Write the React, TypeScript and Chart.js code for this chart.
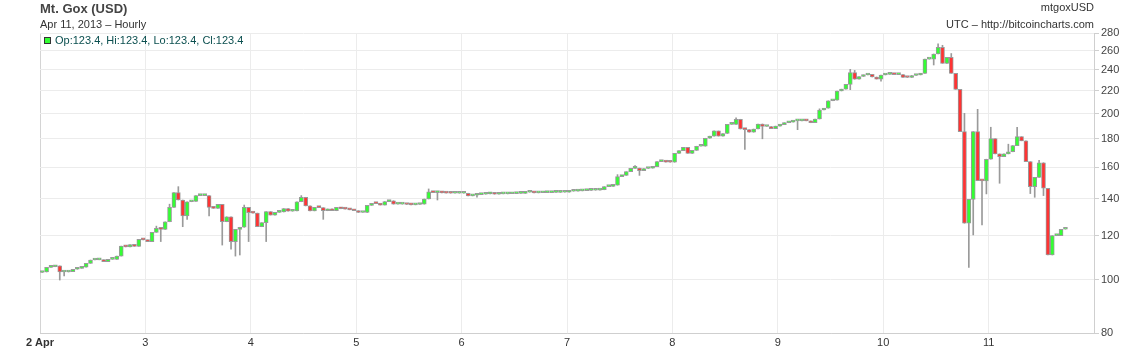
import React, { useEffect, useRef } from "react";
import { Chart, registerables } from "chart.js";

Chart.register(...registerables);

// ---- Data (hourly candles, Mt. Gox USD, 2–11 Apr 2013) ----
const dayTickLabels = ["2 Apr", "3", "4", "5", "6", "7", "8", "9", "10", "11"];
const priceTicks = [80, 100, 120, 140, 160, 180, 200, 220, 240, 260, 280];
const firstOpen = 103.0;

const closesApr02 = [103.2, 105.2, 105.5, 105.9, 103.2, 103.2, 103.3, 104.4, 104.8, 105.3, 107.0, 108.5, 108.6, 108.6, 107.8, 108.8, 108.8, 110.3, 115.0, 114.6, 115.7, 114.9, 118.3, 118.0];
const closesApr03 = [117.2, 121.8, 123.9, 123.3, 127.3, 135.2, 143.8, 139.4, 130.4, 138.4, 138.6, 142.0, 142.0, 142.0, 135.2, 134.6, 136.9, 127.3, 130.0, 117.2, 123.3, 124.4, 135.2, 132.2];
const closesApr04 = [132.0, 124.7, 126.8, 132.8, 130.9, 132.4, 132.6, 134.5, 133.0, 133.2, 138.4, 141.0, 136.0, 133.2, 135.2, 135.0, 133.3, 134.3, 133.3, 135.2, 134.4, 134.2, 133.8, 133.3];
const closesApr05 = [132.3, 132.3, 136.3, 137.5, 137.3, 136.5, 138.5, 139.0, 137.0, 137.0, 137.0, 136.8, 136.6, 136.8, 137.0, 140.0, 144.3, 143.8, 144.2, 143.6, 143.5, 143.4, 143.4, 143.4];
const closesApr06 = [143.4, 141.8, 142.2, 142.6, 142.8, 143.0, 143.9, 142.8, 143.0, 143.0, 143.1, 143.2, 143.3, 143.3, 144.0, 144.0, 143.6, 143.7, 143.8, 143.8, 143.9, 143.9, 144.0, 144.0];
const closesApr07 = [144.6, 144.7, 144.8, 145.0, 145.1, 145.2, 145.3, 145.5, 147.4, 147.6, 148.3, 153.7, 154.5, 156.9, 159.1, 159.3, 157.5, 159.0, 159.2, 160.3, 163.6, 164.0, 163.3, 163.2];
const closesApr08 = [169.4, 171.3, 173.7, 169.4, 171.5, 174.5, 174.5, 180.4, 182.0, 186.0, 182.0, 184.0, 191.2, 191.2, 195.3, 187.5, 187.0, 185.0, 187.5, 191.5, 189.5, 189.5, 187.8, 189.8];
const closesApr09 = [191.0, 192.5, 193.0, 194.0, 194.0, 194.2, 194.0, 192.5, 195.5, 203.0, 204.5, 211.0, 211.5, 219.8, 221.5, 226.0, 237.3, 230.8, 233.5, 235.0, 235.5, 233.0, 231.0, 235.0];
const closesApr10 = [235.5, 235.5, 235.3, 235.3, 232.7, 232.5, 234.5, 235.0, 236.5, 251.0, 251.0, 256.5, 263.8, 246.7, 253.0, 236.6, 221.3, 185.5, 126.5, 139.8, 185.5, 151.1, 151.0, 165.3];
const closesApr11 = [180.1, 169.0, 167.0, 169.0, 170.5, 175.0, 181.6, 178.5, 163.6, 147.4, 153.2, 162.9, 146.4, 110.8, 120.1, 120.1, 123.4, 123.4];

// [hour index, value] for visible wick extremes
const wickHighs: [number, number][] = [
  [26, 125.0], [29, 137.0], [31, 147.4], [46, 136.5], [59, 142.0], [88, 146.0], [131, 155.0],
  [135, 161.0], [158, 196.5], [177, 204.0], [184, 240.6], [185, 239.5], [204, 267.5], [205, 266.0],
  [207, 257.0], [210, 200.2], [213, 203.6], [216, 188.9], [220, 176.0], [222, 188.9], [227, 164.5],
];
const wickLows: [number, number][] = [
  [4, 99.8], [5, 101.5], [27, 117.2], [30, 135.2], [32, 124.7], [33, 128.5], [38, 130.4], [41, 115.5],
  [43, 113.5], [44, 110.3], [45, 110.8], [47, 117.2], [51, 117.2], [64, 128.6], [90, 139.4], [99, 141.0],
  [136, 154.5], [160, 172.2], [164, 180.0], [172, 187.0], [184, 221.0], [191, 229.0], [203, 245.0],
  [211, 105.2], [212, 120.5], [214, 125.6], [215, 143.0], [218, 149.5], [225, 143.2],
  [226, 141.0], [228, 142.0],
];

const UP = "#33ff33";
const DOWN = "#ff3333";
const EDGE = "#9a9a9a";
const FONT = '"Liberation Sans", Arial, Helvetica, sans-serif';

export default function App() {
  const canvasRef = useRef<HTMLCanvasElement | null>(null);

  useEffect(() => {
    const closes = [
      ...closesApr02, ...closesApr03, ...closesApr04, ...closesApr05, ...closesApr06,
      ...closesApr07, ...closesApr08, ...closesApr09, ...closesApr10, ...closesApr11,
    ];
    const opens = closes.map((c, i) => (i === 0 ? firstOpen : closes[i - 1]));
    const hi = new Map(wickHighs);
    const lo = new Map(wickLows);
    const bodies = closes.map((c, i) => ({ x: i + 0.5, y: [opens[i], c] }));
    const wicks = closes.map((c, i) => ({
      x: i + 0.5,
      y: [lo.get(i) ?? Math.min(opens[i], c), hi.get(i) ?? Math.max(opens[i], c)],
    }));
    const fills = closes.map((c, i) => (c >= opens[i] ? UP : DOWN));

    const chart = new Chart(canvasRef.current as HTMLCanvasElement, {
      type: "bar",
      data: {
        datasets: [
          {
            data: wicks as any,
            backgroundColor: EDGE,
            borderWidth: 0,
            barThickness: 1,
            grouped: false,
            order: 2,
          } as any,
          {
            data: bodies as any,
            backgroundColor: fills,
            borderColor: EDGE,
            borderWidth: 1,
            borderSkipped: false,
            barThickness: 4,
            minBarLength: 2,
            grouped: false,
            order: 1,
          } as any,
        ],
      },
      options: {
        animation: false,
        responsive: false,
        layout: { padding: { left: 40, top: 33, right: 0, bottom: 0 } },
        plugins: { legend: { display: false }, tooltip: { enabled: false }, title: { display: false } },
        scales: {
          x: {
            type: "linear",
            min: 0,
            max: 240,
            offset: false,
            grid: {
              offset: false,
              drawTicks: false,
              color: (ctx: any) => (ctx.index === 0 ? "#d4d4d4" : "#ececec"),
            },
            border: { color: "#cfcfcf" },
            afterBuildTicks: (s: any) => {
              s.ticks = dayTickLabels.map((_, i) => ({ value: i * 24 }));
            },
            ticks: {
              autoSkip: false,
              maxRotation: 0,
              padding: 3,
              color: "#333333",
              font: (ctx: any) => ({ family: FONT, size: 11, weight: ctx.index === 0 ? "bold" : "normal" }),
              callback: (_v: any, i: number) => dayTickLabels[i] ?? "",
            },
            afterFit: (s: any) => {
              s.height = 15;
            },
          },
          y: {
            type: "logarithmic",
            position: "right",
            min: 80,
            max: 280,
            grid: { color: "#ececec", tickColor: "#cfcfcf", tickLength: 5, drawTicks: true },
            border: { color: "#cfcfcf" },
            afterBuildTicks: (s: any) => {
              s.ticks = priceTicks.map((v) => ({ value: v }));
            },
            ticks: {
              autoSkip: false,
              padding: 2,
              color: "#444444",
              font: { family: FONT, size: 11 },
              callback: (v: any) => String(v),
            },
            afterFit: (s: any) => {
              s.width = 40;
            },
          },
        },
      } as any,
    });
    return () => chart.destroy();
  }, []);

  const base: React.CSSProperties = { position: "absolute", whiteSpace: "nowrap", fontFamily: FONT };
  return (
    <div style={{ position: "fixed", left: 0, top: 0, width: 1134, height: 348, background: "#fff", overflow: "hidden" }}>
      <canvas ref={canvasRef} width={1134} height={348} style={{ position: "absolute", left: 0, top: 0 }} />
      <div style={{ ...base, left: 40, top: 2, fontSize: 13, lineHeight: "13px", fontWeight: "bold", color: "#444" }}>Mt. Gox (USD)</div>
      <div style={{ ...base, left: 40, top: 19, fontSize: 11, lineHeight: "11px", color: "#333" }}>Apr 11, 2013 – Hourly</div>
      <div style={{ ...base, right: 40, top: 2, fontSize: 11, lineHeight: "11px", color: "#333", textAlign: "right" }}>mtgoxUSD</div>
      <div style={{ ...base, right: 40, top: 19, fontSize: 11, lineHeight: "11px", color: "#333", textAlign: "right" }}>UTC – http://bitcoincharts.com</div>
      <div style={{ ...base, left: 44, top: 35, fontSize: 11, lineHeight: "11px", color: "#0b4f4f", display: "flex", alignItems: "center" }}>
        <span style={{ display: "inline-block", width: 5, height: 5, background: "#33ff33", border: "1px solid #333", marginRight: 4 }} />
        <span>Op:123.4, Hi:123.4, Lo:123.4, Cl:123.4</span>
      </div>
    </div>
  );
}
